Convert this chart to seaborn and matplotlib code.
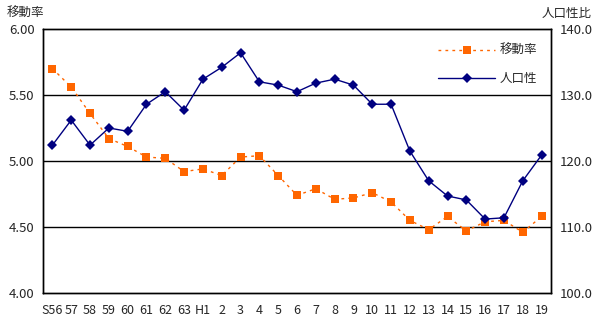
import numpy as np
import pandas as pd
import matplotlib
matplotlib.use("Agg")
import matplotlib.pyplot as plt
import seaborn as sns
from matplotlib.ticker import FixedLocator

# Data
years = ["S56", "57", "58", "59", "60", "61", "62", "63", "H1", "2", "3", "4", "5", "6",
         "7", "8", "9", "10", "11", "12", "13", "14", "15", "16", "17", "18", "19"]
move_rate = [5.70, 5.56, 5.36, 5.17, 5.11, 5.03, 5.02, 4.92, 4.94, 4.89, 5.03, 5.04, 4.89, 4.74,
             4.79, 4.71, 4.72, 4.76, 4.69, 4.55, 4.48, 4.58, 4.47, 4.54, 4.55, 4.46, 4.58]
sex_ratio = [122.4, 126.2, 122.4, 125.0, 124.5, 128.6, 130.5, 127.7, 132.4, 134.2, 136.4, 132.0, 131.5, 130.5,
             131.8, 132.4, 131.5, 128.6, 128.6, 121.5, 117.0, 114.7, 114.1, 111.2, 111.4, 117.0, 120.9]

df = pd.DataFrame({"year": years, "move": move_rate, "ratio": sex_ratio})

sns.set_style("white")
plt.rcParams["font.family"] = ["Noto Sans CJK JP", "DejaVu Sans"]

fig = plt.figure(figsize=(6, 3.25), dpi=100)
ax = fig.add_axes([43 / 600, 32 / 325, 508 / 600, 264 / 325])
ax2 = ax.twinx()

sns.lineplot(data=df, x="year", y="move", ax=ax, color="#FF6600", linestyle=(0, (2, 3)),
             linewidth=1, marker="s", markersize=5.5, markeredgewidth=0, label="移動率", legend=False)
sns.lineplot(data=df, x="year", y="ratio", ax=ax2, color="#000080", linewidth=1,
             marker="D", markersize=5, markeredgewidth=0, label="人口性", legend=False)

ax.set_ylim(4.0, 6.0)
ax.set_yticks([4.0, 4.5, 5.0, 5.5, 6.0])
ax.set_yticklabels(["4.00", "4.50", "5.00", "5.50", "6.00"])
ax2.set_ylim(100, 140)
ax2.set_yticks([100, 110, 120, 130, 140])
ax2.set_yticklabels(["100.0", "110.0", "120.0", "130.0", "140.0"])
ax.set_xlim(-0.5, len(years) - 0.5)

for y in [4.5, 5.0, 5.5]:
    ax.axhline(y, color="black", linewidth=1, zorder=0)

ax.set_xlabel("")
ax.set_ylabel("")
ax2.set_ylabel("")
ax.xaxis.set_minor_locator(FixedLocator(np.arange(0.5, len(years) - 1, 1)))
ax.tick_params(axis="x", which="major", length=0, labelsize=9, pad=8)
ax.tick_params(axis="x", which="minor", direction="in", length=4, width=1, color="black")
ax.tick_params(axis="y", length=0, labelsize=9.5, pad=6)
ax2.tick_params(axis="y", length=0, labelsize=9.5, pad=6)

for a in (ax, ax2):
    for s in a.spines.values():
        s.set_color("black")
        s.set_linewidth(1)

fig.text(7 / 600, 1 - 13 / 325, "移動率", fontsize=9, va="center", ha="left")
fig.text(592 / 600, 1 - 13 / 325, "人口性比", fontsize=9, va="center", ha="right")

h1, l1 = ax.get_legend_handles_labels()
h2, l2 = ax2.get_legend_handles_labels()
ax2.legend(h1 + h2, l1 + l2, loc="upper right", bbox_to_anchor=(0.995, 0.985), frameon=False,
           fontsize=9, handlelength=4.5, labelspacing=1.2, handletextpad=0.4)

fig.savefig("out.png", dpi=100)
